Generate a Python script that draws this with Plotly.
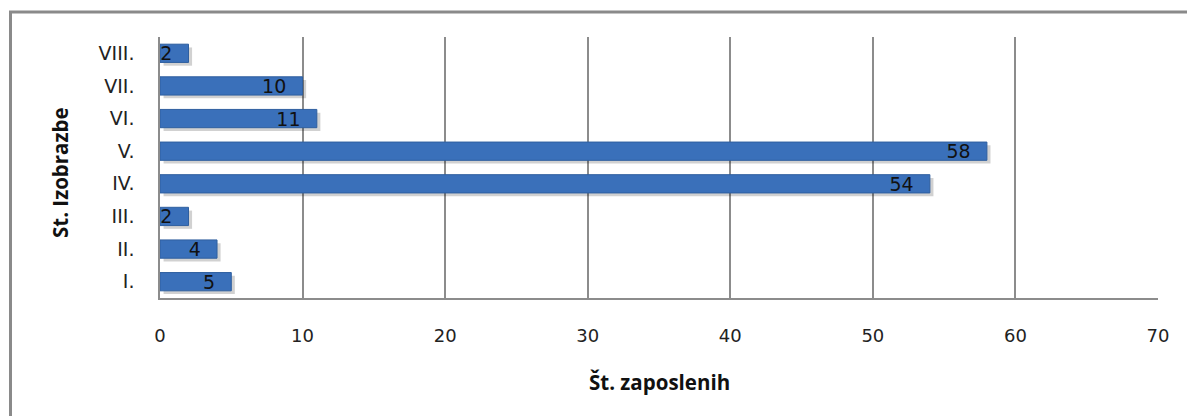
import plotly.graph_objects as go

# Education level categories (bottom to top) and number of employees
levels = ["I.", "II.", "III.", "IV.", "V.", "VI.", "VII.", "VIII."]
employees = [5, 4, 2, 54, 58, 11, 10, 2]
x_ticks = [0, 10, 20, 30, 40, 50, 60, 70]

W, H = 1187, 416
L, R, T, B = 160, 29, 37, 118
pw, ph = W - L - R, H - T - B


def px_x(px):
    return (px - L) / pw


def px_y(py):
    return (H - B - py) / ph


tick_family = "DejaVu Sans, sans-serif"
title_family = "Open Sans, DejaVu Sans, sans-serif"
bar_w = 0.56

fig = go.Figure()

# soft drop shadow under each bar
fig.add_trace(go.Bar(
    y=levels, x=employees, orientation="h",
    base=0.25, width=bar_w, offset=-bar_w / 2 - 0.1,
    marker=dict(color="rgba(0,0,0,0.18)", line=dict(width=0)),
    hoverinfo="skip", showlegend=False,
))

fig.add_trace(go.Bar(
    y=levels, x=employees, orientation="h",
    width=bar_w, offset=-bar_w / 2,
    marker=dict(color="#3a70ba", line=dict(color="#2f5f9f", width=1)),
    texttemplate="%{x}\u2002\u2009",
    textposition="inside", insidetextanchor="end",
    textangle=0, constraintext="none",
    textfont=dict(family=tick_family, size=19, color="#111111"),
    showlegend=False,
))

fig.update_layout(
    width=W, height=H,
    margin=dict(l=L, r=R, t=T, b=B),
    paper_bgcolor="white", plot_bgcolor="white",
    barmode="overlay",
    font=dict(family=tick_family, color="#222222"),
    xaxis=dict(
        range=[0, 70], tickvals=x_ticks, ticktext=[str(t) for t in x_ticks],
        showgrid=True, gridcolor="#8c8c8c", gridwidth=1.5,
        showline=True, linecolor="#8c8c8c", linewidth=2,
        zeroline=False, ticks="", ticklabelstandoff=20,
        tickfont=dict(size=18, color="#222222"),
        fixedrange=True,
    ),
    yaxis=dict(
        categoryorder="array", categoryarray=levels,
        range=[-0.5, len(levels) - 0.5],
        showgrid=False, showline=True, linecolor="#8c8c8c", linewidth=1.5,
        ticks="", ticklabelstandoff=20,
        tickfont=dict(size=19, color="#222222"),
        fixedrange=True,
    ),
    shapes=[dict(
        type="rect", xref="paper", yref="paper",
        x0=px_x(10.5), x1=px_x(1210), y0=px_y(440), y1=px_y(12),
        line=dict(color="#8a8a8a", width=3), layer="below",
    )],
    annotations=[
        dict(text="<b>Št. zaposlenih</b>", xref="paper", yref="paper",
             x=px_x(659), y=px_y(382), showarrow=False,
             xanchor="center", yanchor="middle",
             font=dict(family=title_family, size=20.5, color="#111111")),
        dict(text="<b>St. Izobrazbe</b>", xref="paper", yref="paper",
             x=px_x(60), y=px_y(173), showarrow=False, textangle=-90,
             xanchor="center", yanchor="middle",
             font=dict(family=title_family, size=20.5, color="#111111")),
    ],
)

fig.write_html("out.html")
